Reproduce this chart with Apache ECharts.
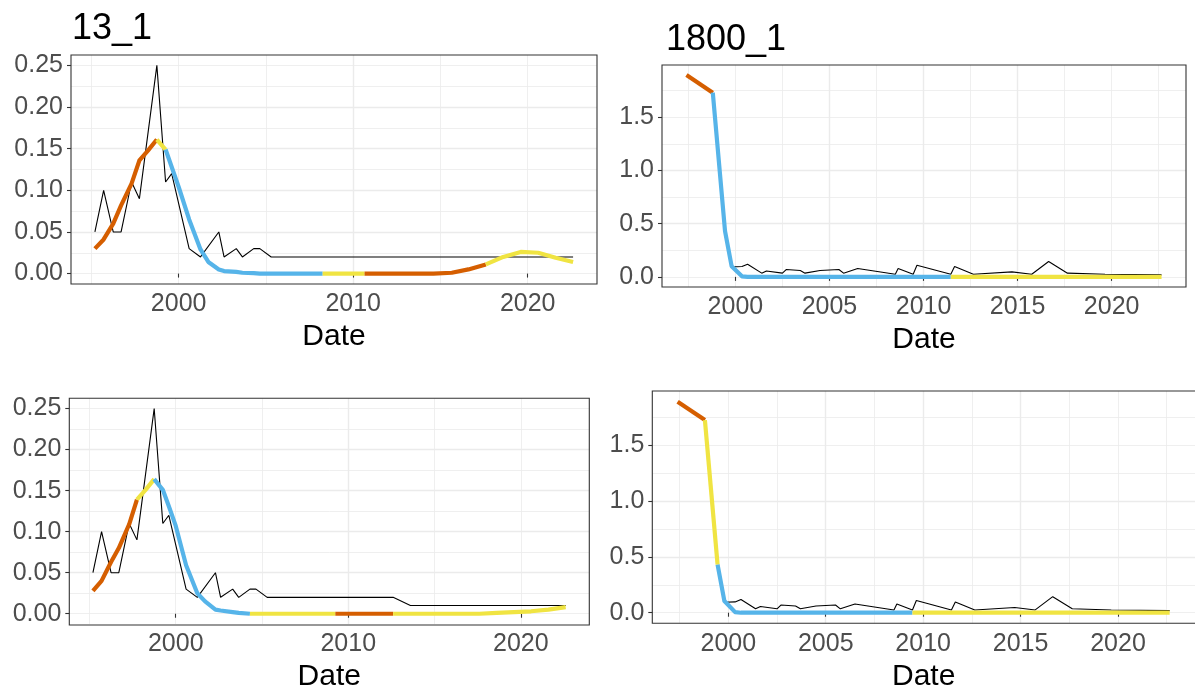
<!DOCTYPE html>
<html>
<head>
<meta charset="utf-8">
<script src="https://cdn.jsdelivr.net/npm/echarts@6/dist/echarts.min.js"></script>
<style>
  html, body { margin: 0; padding: 0; background: #fff; }
  #chart { width: 1195px; height: 693px; }
</style>
</head>
<body>
<div id="chart"></div>
<script>
// ---- data (decimal years) ----
const leftDates = [1995.2, 1995.7, 1996.25, 1996.7, 1997.3, 1997.75, 1998.25, 1998.75, 1999.25, 1999.6,
  2000.0, 2000.6, 2001.25, 2001.7, 2002.3, 2002.6, 2003.3, 2003.65, 2004.3, 2004.65,
  2005.3, 2006.3, 2007.3, 2008.25, 2009.25, 2010.65, 2011.6, 2012.6, 2013.6, 2014.6,
  2015.65, 2016.6, 2017.6, 2018.6, 2019.6, 2020.6, 2021.6, 2022.6];

const topLeftRaw = [0.05, 0.10, 0.05, 0.05, 0.11, 0.09, null, 0.25, 0.11, 0.12,
  null, 0.03, 0.02, null, 0.05, 0.02, 0.03, 0.02, 0.03, 0.03,
  0.02, 0.02, 0.02, 0.02, 0.02, 0.02, 0.02, 0.02, 0.02, 0.02,
  0.02, 0.02, 0.02, 0.02, 0.02, 0.02, 0.02, 0.02];
const topLeftFit = [0.030, 0.041, 0.060, 0.082, 0.108, 0.136, 0.148, 0.161, 0.149, 0.128,
  0.104, 0.065, 0.029, 0.014, 0.005, 0.003, 0.002, 0.001, 0.0005, 0,
  0, 0, 0, 0, 0, 0, 0, 0, 0, 0,
  0.001, 0.005, 0.011, 0.020, 0.026, 0.025, 0.019, 0.014];
const topLeftState = ['O', 'O', 'O', 'O', 'O', 'O', 'O', 'Y', 'B', 'B',
  'B', 'B', 'B', 'B', 'B', 'B', 'B', 'B', 'B', 'B',
  'B', 'B', 'B', 'Y', 'Y', 'O', 'O', 'O', 'O', 'O',
  'O', 'O', 'Y', 'Y', 'Y', 'Y', 'Y', 'Y'];

const bottomLeftRaw = [0.05, 0.10, 0.05, 0.05, 0.11, 0.09, null, 0.25, 0.11, 0.12,
  null, 0.03, 0.02, null, 0.05, 0.02, 0.03, 0.02, 0.03, 0.03,
  0.02, 0.02, 0.02, 0.02, 0.02, 0.02, 0.02, 0.02, 0.01, 0.01,
  0.01, 0.01, 0.01, 0.01, 0.01, 0.01, 0.01, 0.01];
const bottomLeftFit = [0.028, 0.040, 0.063, 0.080, 0.109, 0.139, 0.151, 0.164, 0.151, 0.131,
  0.107, 0.059, 0.025, 0.015, 0.005, 0.004, 0.002, 0.001, 0, 0,
  0, 0, 0, 0, 0, 0, 0, 0, 0, 0,
  0, 0, 0, 0.001, 0.002, 0.003, 0.005, 0.008];
const bottomLeftState = ['O', 'O', 'O', 'O', 'O', 'Y', 'Y', 'B', 'B', 'B',
  'B', 'B', 'B', 'B', 'B', 'B', 'B', 'B', 'Y', 'Y',
  'Y', 'Y', 'Y', 'Y', 'O', 'O', 'O', 'Y', 'Y', 'Y',
  'Y', 'Y', 'Y', 'Y', 'Y', 'Y', 'Y', 'Y'];

const rightDates = [1997.4, 1998.8, 1999.45, 1999.8, 2000.35, 2000.65, 2001.4, 2001.65, 2002.5, 2002.7,
  2003.45, 2003.7, 2004.5, 2005.5, 2005.75, 2006.5, 2008.5, 2008.65, 2009.45, 2009.65,
  2011.45, 2011.65, 2012.65, 2014.7, 2015.75, 2016.65, 2017.65, 2019.65, 2022.65];
const rightRaw = [null, null, null, 0.094, 0.097, 0.119, 0.035, 0.056, 0.035, 0.069,
  0.060, 0.035, 0.060, 0.069, 0.035, 0.078, 0.025, 0.078, 0.025, 0.109,
  0.025, 0.097, 0.025, 0.047, 0.025, 0.144, 0.035, 0.025, 0.019];
const topRightFit = [1.896, 1.73, 0.43, 0.10, 0.005, 0, 0, 0, 0, 0,
  0, 0, 0, 0, 0, 0, 0, 0, 0, 0,
  0, 0, 0, 0, 0, 0, 0, 0, 0];
const topRightState = ['O', 'B', 'B', 'B', 'B', 'B', 'B', 'B', 'B', 'B',
  'B', 'B', 'B', 'B', 'B', 'B', 'B', 'B', 'B', 'B',
  'Y', 'Y', 'Y', 'Y', 'Y', 'Y', 'Y', 'Y', 'Y'];
const bottomRightFit = [1.894, 1.729, 0.432, 0.105, 0.005, 0, 0, 0, 0, 0,
  0, 0, 0, 0, 0, 0, 0, 0, 0, 0,
  0, 0, 0, 0, 0, 0, 0, 0, 0];
const bottomRightState = ['O', 'Y', 'B', 'B', 'B', 'B', 'B', 'B', 'B', 'B',
  'B', 'B', 'B', 'B', 'B', 'B', 'B', 'B', 'Y', 'Y',
  'Y', 'Y', 'Y', 'Y', 'Y', 'Y', 'Y', 'Y', 'Y'];

const leftYTicks = [0, 0.05, 0.10, 0.15, 0.20, 0.25];
const rightYTicks = [0, 0.5, 1.0, 1.5];
const leftXTicks = [2000, 2010, 2020];
const rightXTicks = [2000, 2005, 2010, 2015, 2020];

const COLORS = { O: '#D55E00', B: '#56B4E9', Y: '#F0E442' };
const FONT = '"Liberation Sans", Arial, sans-serif';

const panels = [
  { grid: { left: 71, top: 55, width: 526, height: 229 },
    x: [1993.83, 2023.97, 10, 5], y: [-0.0125, 0.2625, 0.05, 0.025], dec: 2,
    xTicks: leftXTicks, yTicks: leftYTicks,
    dates: leftDates, raw: topLeftRaw, fit: topLeftFit, states: topLeftState },
  { grid: { left: 662, top: 65, width: 524, height: 222 },
    x: [1996.1, 2023.95, 5, 2.5], y: [-0.095, 1.99, 0.5, 0.25], dec: 1,
    xTicks: rightXTicks, yTicks: rightYTicks,
    dates: rightDates, raw: rightRaw, fit: topRightFit, states: topRightState },
  { grid: { left: 69.3, top: 398.3, width: 520, height: 226.7 },
    x: [1993.83, 2023.97, 10, 5], y: [-0.0125, 0.2625, 0.05, 0.025], dec: 2,
    xTicks: leftXTicks, yTicks: leftYTicks,
    dates: leftDates, raw: bottomLeftRaw, fit: bottomLeftFit, states: bottomLeftState },
  { grid: { left: 652.3, top: 391, width: 547.3, height: 232.3 },
    x: [1996.1, 2023.95, 5, 2.5], y: [-0.095, 1.99, 0.5, 0.25], dec: 1,
    xTicks: rightXTicks, yTicks: rightYTicks,
    dates: rightDates, raw: rightRaw, fit: bottomRightFit, states: bottomRightState }
];

const grids = [], xAxes = [], yAxes = [], series = [], frames = [];

panels.forEach((p, i) => {
  grids.push(Object.assign({ show: true, borderWidth: 0, backgroundColor: '#fff' }, p.grid));
  // panel border drawn on top of the gridlines
  frames.push({
    type: 'rect', z: 100, silent: true,
    shape: { x: p.grid.left, y: p.grid.top, width: p.grid.width, height: p.grid.height },
    style: { fill: 'none', stroke: '#333333', lineWidth: 1.1 }
  });

  const edge = { showMinLine: false, showMaxLine: false };
  // major x axis
  xAxes.push({
    type: 'value', gridIndex: i, min: p.x[0], max: p.x[1],
    minInterval: p.x[2], maxInterval: p.x[2],
    axisLine: { show: false },
    axisTick: { show: true, length: 4, customValues: p.xTicks, lineStyle: { color: '#333', width: 1.1 } },
    axisLabel: { show: true, margin: 8, color: '#4D4D4D', fontSize: 25, fontFamily: FONT,
      customValues: p.xTicks, formatter: v => String(Math.round(v)) },
    splitLine: Object.assign({ show: true, lineStyle: { color: '#EBEBEB', width: 1.4 } }, edge),
    name: 'Date', nameLocation: 'middle', nameGap: 38,
    nameTextStyle: { fontSize: 30, color: '#000', fontFamily: FONT }
  });
  // minor x gridlines
  xAxes.push({
    type: 'value', gridIndex: i, min: p.x[0], max: p.x[1],
    minInterval: p.x[3], maxInterval: p.x[3],
    axisLine: { show: false }, axisTick: { show: false }, axisLabel: { show: false },
    splitLine: Object.assign({ show: true, lineStyle: { color: '#EBEBEB', width: 0.8 } }, edge)
  });
  // major y axis
  yAxes.push({
    type: 'value', gridIndex: i, min: p.y[0], max: p.y[1],
    minInterval: p.y[2], maxInterval: p.y[2],
    axisLine: { show: false },
    axisTick: { show: true, length: 4, customValues: p.yTicks, lineStyle: { color: '#333', width: 1.1 } },
    axisLabel: { show: true, margin: 8, color: '#4D4D4D', fontSize: 25, fontFamily: FONT,
      customValues: p.yTicks, formatter: v => v.toFixed(p.dec) },
    splitLine: Object.assign({ show: true, lineStyle: { color: '#EBEBEB', width: 1.4 } }, edge)
  });
  // minor y gridlines
  yAxes.push({
    type: 'value', gridIndex: i, min: p.y[0], max: p.y[1],
    minInterval: p.y[3], maxInterval: p.y[3],
    axisLine: { show: false }, axisTick: { show: false }, axisLabel: { show: false },
    splitLine: Object.assign({ show: true, lineStyle: { color: '#EBEBEB', width: 0.8 } }, edge)
  });

  const ax = 2 * i;
  // raw series (thin black)
  series.push({
    type: 'line', xAxisIndex: ax, yAxisIndex: ax, z: 2,
    data: p.dates.map((d, k) => [d, p.raw[k]]),
    connectNulls: true, showSymbol: false, symbol: 'none', clip: false,
    lineStyle: { color: '#000', width: 1.1 }
  });
  // fitted series, one line per run of the same state
  let start = 0;
  for (let k = 1; k <= p.states.length; k++) {
    if (k === p.states.length || p.states[k] !== p.states[start]) {
      const end = Math.min(k, p.dates.length - 1);
      const pts = [];
      for (let m = start; m <= end; m++) pts.push([p.dates[m], p.fit[m]]);
      if (pts.length > 1) {
        series.push({
          type: 'line', xAxisIndex: ax, yAxisIndex: ax, z: 3,
          data: pts, showSymbol: false, symbol: 'none', clip: false,
          lineStyle: { color: COLORS[p.states[start]], width: 4.2, cap: 'butt', join: 'round' }
        });
      }
      start = k;
    }
  }
});

const chart = echarts.init(document.getElementById('chart'), null, { renderer: 'canvas' });
chart.setOption({
  animation: false,
  backgroundColor: '#fff',
  title: [
    { text: '13_1', left: 72, top: 11, padding: 0,
      textStyle: { fontSize: 36, fontWeight: 'normal', color: '#000', fontFamily: FONT } },
    { text: '1800_1', left: 666, top: 22, padding: 0,
      textStyle: { fontSize: 36, fontWeight: 'normal', color: '#000', fontFamily: FONT } }
  ],
  grid: grids,
  xAxis: xAxes,
  yAxis: yAxes,
  series: series,
  graphic: frames
});
</script>
</body>
</html>
